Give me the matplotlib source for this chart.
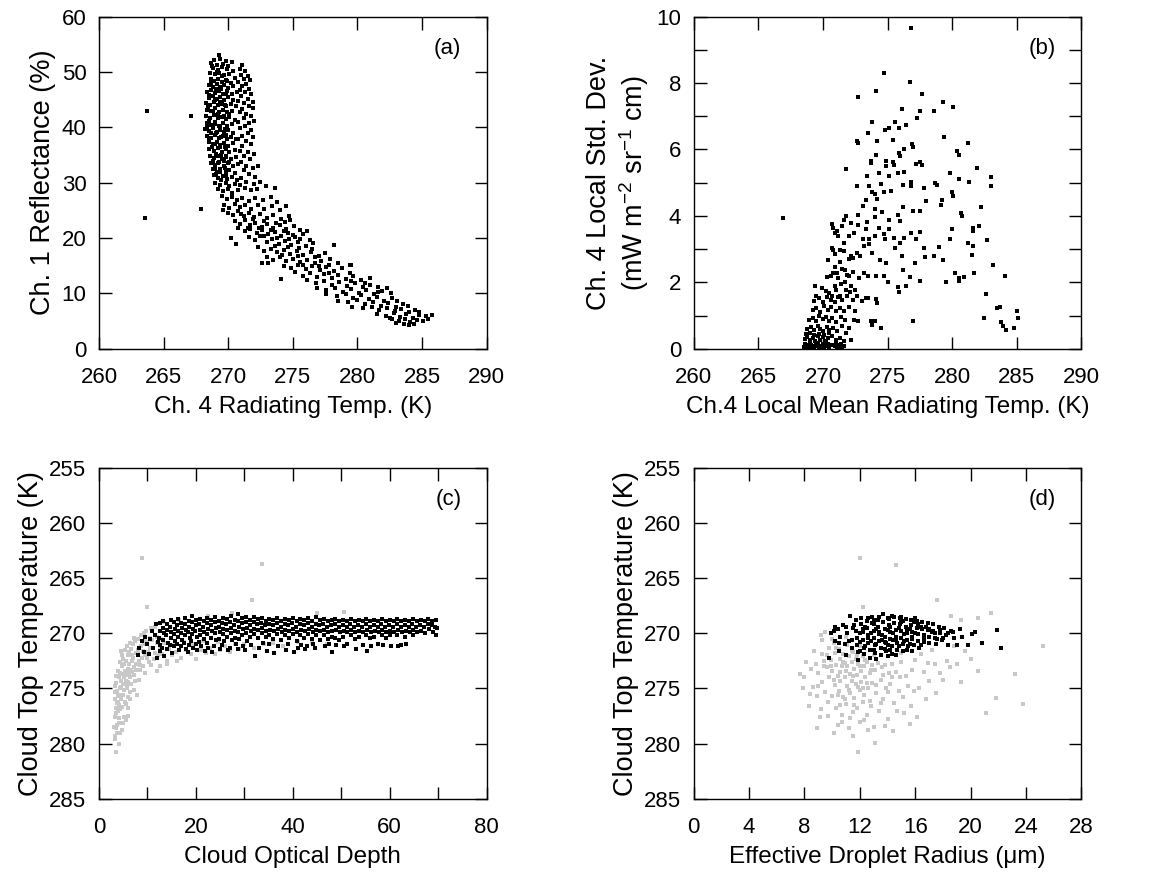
import numpy as np
import matplotlib.pyplot as plt
from matplotlib.ticker import MultipleLocator

plt.rcParams['font.family'] = ['Liberation Sans', 'DejaVu Sans']
plt.rcParams['mathtext.fontset'] = 'custom'
plt.rcParams['mathtext.rm'] = 'Liberation Sans'
plt.rcParams['mathtext.default'] = 'regular'

# (a) Ch.4 radiating temperature (K), Ch.1 reflectance (%)
a_core = [
    (269.3,53.1),(268.9,52.2),(269.4,52.4),(269.8,52.0),(270.3,51.8),(268.7,51.6),(269.1,51.3),(269.6,51.5),(270.0,51.1),
    (268.8,50.7),(269.2,50.4),(269.5,50.9),(269.9,50.5),(270.4,50.2),(268.6,49.9),(269.0,49.6),(269.3,49.9),(269.7,49.4),(270.1,49.7),
    (268.7,48.8),(268.9,48.3),(269.2,48.7),(269.5,48.1),(269.8,48.6),(270.2,48.0),(270.5,48.9),(268.5,47.6),(268.8,47.2),(269.1,47.8),
    (269.4,47.3),(269.7,47.6),(270.0,47.1),(270.4,47.5),(268.4,46.4),(268.7,46.8),(269.0,46.2),(269.3,46.6),(269.6,46.1),(269.9,46.5),
    (270.3,46.0),(270.7,46.4),(268.5,45.3),(268.8,45.7),(269.1,45.1),(269.4,45.5),(269.7,45.0),(270.0,45.4),(270.4,44.9),(268.3,44.4),
    (268.6,44.1),(268.9,44.6),(269.2,44.0),(269.5,44.3),(269.8,43.9),(270.2,44.2),(270.6,43.8),(268.4,43.2),(268.7,42.9),(269.0,43.4),
    (269.3,42.8),(269.6,43.1),(269.9,42.7),(270.3,43.0),(268.3,42.0),(268.6,41.7),(268.9,42.2),(269.2,41.6),(269.5,41.9),(269.8,41.5),
    (270.1,41.8),(270.5,41.4),(268.4,40.8),(268.7,40.4),(269.0,40.9),(269.3,40.3),(269.6,40.7),(269.9,40.2),(270.3,40.6),(268.2,39.7),
    (268.5,39.3),(268.8,39.8),(269.1,39.2),(269.4,39.6),(269.7,39.1),(270.0,39.5),(270.4,39.0),(268.4,38.5),(268.7,38.1),(269.0,38.6),
    (269.3,38.0),(269.6,38.4),(269.9,37.9),(270.2,38.3),(270.6,37.8),(268.5,37.3),(268.8,36.9),(269.1,37.4),(269.4,36.8),(269.7,37.2),
    (270.0,36.7),(270.4,37.1),(268.5,36.1),(268.9,35.7),(269.2,36.2),(269.5,35.6),(269.8,36.0),(270.1,35.5),(270.5,35.9),(268.6,34.9),
    (268.9,34.4),(269.2,34.8),(269.5,34.3),(269.8,34.7),(270.2,34.2),(270.6,34.6),(268.7,33.6),(269.0,33.2),(269.3,33.7),(269.7,33.1),
    (270.0,33.5),(270.4,33.0),(270.8,33.4),(268.8,32.4),(269.1,32.0),(269.4,32.5),(269.8,31.9),(270.1,32.3),(270.5,31.8),(268.9,31.3),
    (269.2,30.8),(269.6,31.2),(269.9,30.6),(270.3,31.0),(270.7,30.5),(269.0,30.0),(269.4,29.6),(269.8,29.9),(270.1,29.4),(270.5,29.8),
    (269.2,28.9),(269.6,28.5),(270.0,28.8),(270.3,28.2),(270.8,28.6),
    (268.75,51.0),(269.15,50.0),(269.55,49.2),(269.95,48.3),(268.65,48.0),(269.05,47.0),(269.45,46.9),(269.85,46.0),(268.55,45.9),
    (268.95,45.0),(269.35,44.5),(269.75,44.0),(268.45,43.6),(268.85,43.0),(269.25,42.4),(269.65,42.0),(270.05,42.4),(268.55,41.1),
    (268.95,40.6),(269.35,40.0),(269.75,39.7),(268.35,40.0),(268.65,39.0),(269.05,38.9),(269.45,38.2),(269.85,38.7),(268.55,37.7),
    (268.95,37.0),(269.35,36.5),(269.75,36.4),(268.75,36.5),(269.05,35.2),(269.45,35.0),(269.85,34.9),(268.85,34.0),(269.25,33.5),
    (269.65,33.9),(270.05,33.8),(268.95,32.7),(269.35,32.0),(269.75,32.6),(269.05,31.5),(269.45,30.4),(269.85,31.4),
]
a_arm = [
    (271.1,51.3),(270.9,50.6),(271.3,50.1),(271.0,49.5),(271.5,49.3),(271.2,48.8),(271.7,48.5),(270.8,48.2),(271.4,47.9),(271.1,47.4),
    (271.6,47.0),(270.9,46.7),(271.3,46.3),(271.8,46.0),(271.0,45.6),(271.5,45.2),(271.9,44.6),(271.2,44.4),(270.8,44.8),(271.6,43.8),
    (271.1,43.3),(271.9,43.5),(270.9,42.7),(271.4,42.4),(271.8,42.0),(271.2,41.6),(270.8,41.0),(271.6,40.8),(272.0,41.2),(271.3,40.2),
    (271.8,39.6),(270.9,39.8),(271.5,39.0),(271.1,38.5),(271.9,38.2),(270.8,37.9),(271.4,37.5),(271.8,36.9),(271.1,36.6),(270.9,35.8),
    (271.5,35.5),(272.0,35.2),(271.2,34.8),(271.7,34.2),(271.0,33.7),(271.4,33.1),(271.9,32.7),(272.3,33.0),(271.2,32.2),(271.6,31.5),
    (272.1,31.0),(271.0,30.9),(271.4,30.2),(272.0,29.8),(272.5,30.1),(270.9,29.5),(271.3,29.0),(271.8,28.6),(272.2,28.9),(272.9,29.4),
    (273.6,29.0),
]
a_tail = [
    (269.5,27.6),(269.9,27.0),(270.3,27.4),(270.7,26.8),(271.1,27.2),(271.6,26.6),(272.1,27.3),(272.7,26.9),(273.3,27.5),(273.8,26.5),
    (269.7,26.0),(270.1,25.5),(270.5,26.2),(270.9,25.6),(271.3,26.0),(271.8,25.3),(272.3,25.9),(272.8,25.2),(273.4,25.7),(274.0,25.1),
    (274.5,25.8),(269.6,25.0),(270.0,24.6),(270.4,24.2),(270.8,24.8),(271.2,24.0),(271.6,24.5),(272.0,23.8),(272.5,24.3),(273.0,23.6),
    (273.5,24.1),(274.1,23.4),(274.7,23.9),(274.8,23.3),(270.5,23.0),(270.9,22.5),(271.3,23.2),(271.7,22.3),(272.1,22.8),(272.6,22.0),
    (273.0,22.6),(273.5,21.8),(274.0,22.4),(274.5,21.6),(275.1,22.1),(275.6,21.5),(270.8,21.8),(271.3,21.2),(271.7,21.6),(272.2,20.9),
    (272.6,21.4),(273.1,20.7),(273.6,21.1),(274.1,20.4),(274.6,20.9),(275.2,20.2),(275.8,20.7),(276.1,21.3),(270.2,20.0),(270.6,19.0),
    (271.6,20.1),(272.1,19.6),(272.5,20.3),(273.0,19.3),(273.4,19.8),(273.9,19.0),(274.4,19.5),(274.9,18.8),(275.4,19.3),(276.0,18.6),
    (276.6,19.1),(272.3,18.3),(272.8,17.7),(273.3,18.1),(273.8,17.4),(274.3,17.9),(274.8,17.1),(275.3,17.6),(275.8,16.9),(276.4,17.4),
    (277.0,16.8),(277.5,17.3),(273.0,16.6),(273.5,16.1),(274.0,16.5),(274.5,15.8),(275.0,16.3),(275.6,15.6),(276.1,16.1),(276.7,15.4),
    (277.2,15.9),(277.8,15.2),(272.6,15.4),(273.1,15.4),(274.3,15.0),(274.9,14.6),(275.4,15.1),(276.0,14.4),(276.5,14.9),(277.1,14.2),
    (277.6,14.7),(278.2,14.0),(278.8,14.6),(279.4,15.2),(274.1,12.6),(275.2,13.8),(275.8,13.2),(276.3,13.7),(276.9,13.0),(277.4,13.5),
    (278.0,12.8),(278.5,13.3),(279.1,12.6),(279.7,13.1),(280.3,12.4),(276.1,12.4),(276.8,11.9),(277.4,12.2),(278.0,11.6),(278.6,12.0),
    (279.2,11.3),(279.8,11.8),(280.4,11.1),(281.0,11.6),(281.0,12.8),(276.9,11.0),(277.6,10.6),(278.3,11.0),(278.9,10.3),(279.5,10.8),
    (280.1,10.1),(280.7,10.6),(281.3,9.9),(281.9,10.4),(282.3,11.0),(277.6,9.9),(278.4,9.5),(279.1,9.9),(279.7,9.2),(280.3,9.7),
    (280.9,9.0),(281.5,9.4),(282.1,8.7),(282.7,9.2),(278.5,8.7),(279.3,8.4),(280.0,8.8),(280.6,8.1),(281.2,8.5),(281.8,7.8),
    (282.4,8.3),(283.0,7.6),(283.5,8.1),(279.6,7.6),(280.4,7.3),(281.1,7.6),(281.7,7.0),(282.3,7.4),(282.9,6.8),(283.4,7.2),
    (284.0,6.6),(284.5,7.0),(281.5,6.3),(282.2,6.0),(282.8,6.4),(283.3,5.8),(283.8,6.2),(284.3,5.6),(284.8,6.1),(285.3,5.9),
    (285.8,6.1),(282.7,5.3),(283.2,5.0),(283.7,5.4),(284.1,4.8),(284.6,5.2),(285.1,5.0),(283.6,4.5),(284.0,4.2),(284.4,4.4),
    (283.0,4.6),(282.5,5.6),
    (271.0,24.3),(271.9,23.5),(272.8,23.0),(273.7,22.8),(274.4,22.9),(271.5,21.9),(272.4,21.8),(273.3,21.5),(274.3,21.2),(275.0,20.6),
    (272.8,20.4),(273.8,20.0),(274.7,19.9),(275.6,19.8),(276.3,19.6),(273.6,18.6),(274.6,18.4),(275.5,18.2),(276.5,18.0),(274.2,16.9),
    (275.4,16.7),(276.7,16.5),(277.9,16.3),(275.8,15.2),(277.0,15.0),(278.5,15.4),(277.8,13.7),(279.4,13.7),(280.6,11.9),(279.5,12.3),
    (281.6,11.2),(281.6,10.3),(282.6,10.0),(283.1,8.6),(283.9,7.7),(284.8,6.6),(285.5,5.4),
]
a_outliers = [(263.7,43.0),(263.6,23.6),(267.1,42.0),(267.9,25.3),(278.2,18.8),(279.5,15.1)]

# (b) Ch.4 local mean radiating temperature (K), local std. dev.
b_scatter = [
    (276.8,9.67),(274.7,8.31),(276.7,8.04),(274.1,7.75),(272.7,7.57),(277.7,7.68),(279.3,7.44),(280.1,7.29),(276.1,7.21),(277.5,7.17),
    (278.6,7.17),(273.8,6.83),(275.6,6.83),(277.3,6.94),(276.4,6.75),(274.8,6.6),(275.1,6.66),(275.9,6.65),(273.5,6.49),(272.6,6.25),
    (272.7,6.2),(274.2,6.26),(275.4,6.27),(279.4,6.39),(281.2,6.19),(276.9,6.15),(277.0,6.08),(276.3,6.0),(280.4,5.95),(280.5,5.83),
    (275.9,5.88),(276.0,5.8),(274.1,5.83),(273.7,5.65),(273.7,5.6),(274.9,5.65),(274.9,5.5),(275.4,5.63),(275.5,5.53),(277.5,5.63),
    (277.7,5.53),(277.2,5.57),(271.8,5.4),(279.8,5.3),(281.9,5.45),(276.3,5.33),(280.5,5.1),(281.3,5.02),(283.0,5.18),(283.0,4.9),
    (273.4,5.2),(274.3,5.28),(275.1,5.2),(275.8,5.3),(272.6,4.91),(273.6,4.91),(274.5,4.97),(276.2,4.94),(276.8,5.01),(276.8,4.9),
    (277.8,4.84),(278.7,5.0),(278.8,4.94),(280.0,4.71),(280.1,4.59),(279.2,4.49),(279.1,4.32),(282.2,4.27),(280.7,4.09),(280.8,3.99),
    (278.0,4.46),(277.5,4.15),(276.2,4.27),(277.0,4.15),(273.8,4.71),(274.0,4.67),(274.7,4.71),(273.3,4.47),(274.2,4.51),(275.3,4.75),
    (273.1,4.29),(274.0,4.21),(274.0,3.98),(274.6,4.13),(275.1,3.89),(275.8,4.04),(276.0,3.84),(271.8,3.99),(271.6,3.89),(270.7,3.76),
    (270.8,3.64),(271.5,3.69),(272.2,3.79),(272.7,4.04),(273.4,3.81),(273.3,3.59),(272.7,3.73),(274.3,3.64),(275.1,3.59),(276.8,3.49),
    (277.5,3.5),(280.0,3.59),(281.6,3.64),(281.6,3.54),(282.1,3.71),(282.7,3.27),(281.6,3.09),(281.5,2.83),(281.2,3.19),(279.8,3.29),
    (279.0,3.05),(278.6,2.78),(277.8,3.04),(277.9,2.75),(277.2,3.29),(276.0,3.19),(276.3,3.34),(275.5,3.34),(275.6,3.04),(274.7,3.44),
    (274.8,3.29),(274.0,3.39),(273.6,3.29),(273.6,3.14),(273.1,3.29),(273.2,3.09),(272.4,3.49),(272.0,3.39),(271.6,3.19),(271.2,3.39),
    (270.9,3.49),(271.1,3.54),(270.7,3.04),(270.8,2.98),(271.3,2.96),(272.2,2.78),(272.3,2.73),(272.6,2.88),(272.9,2.78),(273.8,2.88),
    (274.4,2.68),(274.9,2.58),(276.1,2.78),(276.2,2.38),(277.1,2.58),(279.3,2.68),(280.2,2.28),(280.5,2.13),(280.5,2.03),(280.9,2.16),
    (281.7,2.28),(279.5,2.0),(277.5,2.05),(276.7,2.15),(275.8,1.86),(275.9,1.7),(276.4,1.88),(275.0,2.0),(274.7,2.18),(274.1,2.2),
    (273.5,2.18),(273.2,2.28),(272.8,2.13),(283.2,2.51),(284.1,2.2),(282.6,1.66),(283.5,1.23),(283.7,1.26),(285.0,1.13),(285.1,0.92),
    (283.8,0.79),(283.9,0.67),(284.2,0.55),(284.8,0.62),(282.5,0.92),(277.0,0.82),(273.7,0.82),(273.8,0.72),(274.0,0.84),(274.5,0.62),
    (273.3,1.53),(273.5,1.53),(274.1,1.5),(274.2,1.38),(273.0,1.43),(272.5,1.78),(272.6,1.58),(266.9,3.94),
    (269.4,1.88),(269.5,1.6),(270.5,1.68),(270.7,1.58),(270.9,1.88),(270.6,2.18),(270.8,2.28),(271.1,2.28),(271.7,2.38),(272.0,2.18),
    (272.2,1.88),(271.8,1.78),(271.3,1.58),(272.3,1.48),(272.5,1.13),(272.4,0.87),(272.7,0.82),(272.0,0.62),(271.8,0.47),(272.2,0.27),
]
b_cluster = [
    (268.5,0.05),(268.7,0.12),(268.9,0.04),(269.1,0.10),(269.3,0.06),(269.5,0.13),(269.7,0.03),(269.9,0.09),(270.1,0.05),(270.3,0.12),
    (270.5,0.04),(270.9,0.08),(271.1,0.03),(271.3,0.11),(271.5,0.05),(268.6,0.15),(268.8,0.06),(269.0,0.14),(269.2,0.03),(269.4,0.09),
    (269.6,0.16),(269.8,0.05),(270.0,0.13),(270.2,0.07),(270.4,0.15),(270.7,0.10),(271.0,0.14),(271.2,0.06),(271.4,0.15),(271.6,0.09),
    (268.6,0.28),(268.8,0.36),(269.0,0.25),(269.2,0.33),(269.4,0.22),(269.6,0.38),(269.8,0.27),(270.0,0.35),(270.2,0.24),(270.4,0.31),
    (270.7,0.37),(271.0,0.26),(271.3,0.32),(271.6,0.22),(268.7,0.44),(269.0,0.47),(269.3,0.41),(269.7,0.45),(270.1,0.42),(270.5,0.48),
    (268.8,0.58),(269.1,0.66),(269.3,0.55),(269.6,0.69),(269.8,0.60),(270.0,0.52),(270.3,0.65),(270.5,0.57),(270.8,0.62),(271.1,0.54),
    (271.5,0.67),(268.9,0.86),(269.2,0.94),(269.5,0.82),(269.7,0.99),(270.0,0.88),(270.2,0.96),(270.5,0.84),(270.7,0.92),(271.0,0.81),
    (271.4,0.97),(271.7,0.86),(269.2,1.16),(269.5,1.24),(269.8,1.12),(270.1,1.28),(270.4,1.18),(270.6,1.25),(271.0,1.13),(271.3,1.22),
    (271.6,1.15),(272.0,1.27),(269.3,1.45),(269.7,1.53),(270.0,1.41),(270.3,1.57),(270.6,1.48),(270.9,1.42),(271.2,1.55),(271.5,1.46),
    (271.9,1.60),(269.9,1.82),(270.2,1.73),(271.0,1.76),(271.4,1.95),(271.7,2.02),(272.1,1.71),(270.3,2.15),(270.9,2.45),(271.2,2.12),
    (271.5,2.40),(271.9,2.23),(272.3,2.31),(270.4,2.68),(270.9,2.84),(271.3,2.62),(271.6,2.95),(272.0,2.70),
]

# (c) cloud optical depth, cloud top temperature (K)
c_black = [
    (8.0,272.0),(8.3,271.3),(8.8,270.7),(9.2,271.7),(9.6,270.3),(10.0,271.0),(10.3,271.9),(10.6,270.5),(10.9,269.8),(11.2,271.3),
    (11.5,270.2),(11.8,269.2),(12.0,272.2),(12.2,270.8),(12.5,269.1),(12.6,269.8),(12.4,270.4),(12.7,271.1),(12.5,271.6),(13.3,268.9),
    (13.2,269.5),(13.4,270.0),(13.3,270.6),(13.1,271.3),(13.5,272.1),(14.0,269.2),(14.1,269.7),(13.9,270.2),(14.2,270.9),(14.0,271.4),
    (14.8,268.8),(14.7,269.4),(14.9,269.9),(14.8,270.4),(14.6,271.1),(15.0,271.8),(15.5,269.0),(15.6,269.6),(15.4,270.1),(15.7,270.7),
    (15.5,271.2),(16.3,268.7),(16.2,269.3),(16.4,269.8),(16.3,270.3),(16.1,271.0),(16.5,271.5),(17.0,269.1),(17.1,269.5),(16.9,270.0),
    (17.2,270.6),(17.0,271.2),(17.8,268.6),(17.7,269.2),(17.9,269.7),(17.8,270.2),(17.6,270.9),(18.0,271.4),(18.5,268.9),(18.6,269.4),
    (18.4,269.9),(18.7,270.4),(18.5,271.1),(18.3,271.7),(19.3,268.4),(19.2,269.0),(19.4,269.6),(19.3,270.1),(19.1,270.7),(19.5,271.3),
    (20.0,268.8),(20.1,269.3),(19.9,269.8),(20.2,270.3),(20.0,271.0),(20.3,271.5),(20.8,268.7),(20.7,269.2),(20.9,269.7),(20.8,270.2),
    (20.6,270.8),(21.0,271.2),(21.6,268.9),(21.5,269.4),(21.7,269.9),(21.6,270.5),(21.8,271.6),(22.4,268.6),(22.3,269.1),(22.5,269.6),
    (22.4,270.1),(22.2,270.9),(22.6,271.3),(23.2,268.8),(23.1,269.3),(23.3,269.8),(23.2,270.4),(23.4,271.7),(24.0,268.5),(23.9,269.0),
    (24.1,269.5),(24.0,270.0),(24.2,270.6),(23.8,271.2),(24.8,268.9),(24.7,269.4),(24.9,269.9),(24.8,270.5),(25.0,271.4),(25.6,268.6),
    (25.5,269.1),(25.7,269.6),(25.6,270.1),(25.8,270.7),(25.4,271.1),(26.4,268.7),(26.3,269.2),(26.5,269.7),(26.4,270.3),(26.6,271.5),
    (27.2,268.4),(27.1,269.0),(27.3,269.5),(27.2,270.0),(27.4,270.6),(27.0,271.3),(28.0,268.8),(27.9,269.3),(28.1,269.8),(28.0,270.4),
    (28.2,271.0),(28.8,268.3),(28.7,268.9),(28.9,269.4),(28.8,269.9),(29.0,270.5),(28.6,271.4),(29.6,268.6),(29.5,269.1),(29.7,269.6),
    (29.6,270.2),(29.8,271.2),(30.4,268.5),(30.3,269.0),(30.5,269.5),(30.4,270.0),(30.6,270.7),(30.2,271.5),(31.2,268.8),(31.1,269.3),
    (31.3,269.8),(31.2,270.3),(31.4,271.1),(32.0,268.5),(31.9,269.0),(32.1,269.6),(32.0,270.1),(32.2,272.1),(32.8,268.7),(32.7,269.2),
    (32.9,269.7),(32.8,270.4),(33.0,271.3),(33.6,268.6),(33.5,269.1),(33.7,269.5),(33.6,270.0),(33.8,270.9),(34.4,268.9),(34.3,269.3),
    (34.5,269.8),(34.4,270.3),(34.6,271.6),(35.2,268.7),(35.1,269.2),(35.3,269.7),(35.2,270.2),(35.0,271.0),(36.0,268.8),(35.9,269.3),
    (36.1,269.8),(36.0,270.5),(36.2,271.8),(36.8,268.6),(36.7,269.1),(36.9,269.6),(36.8,270.1),(37.0,271.2),(37.6,268.9),(37.5,269.4),
    (37.7,269.9),(37.6,270.6),(38.4,268.7),(38.3,269.2),(38.5,269.7),(38.4,270.2),(38.6,271.5),(39.2,268.8),(39.1,269.3),(39.3,269.8),
    (39.2,270.4),(39.0,271.0),(40.0,268.6),(39.9,269.1),(40.1,269.6),(40.0,270.1),(40.2,271.7),(40.8,268.9),(40.7,269.4),(40.9,269.9),
    (40.8,270.7),(41.0,271.3),(41.6,268.7),(41.5,269.2),(41.7,269.7),(41.6,270.2),(41.8,271.1),(42.4,268.8),(42.3,269.3),(42.5,269.8),
    (42.4,270.4),(42.6,271.4),(43.2,268.6),(43.1,269.1),(43.3,269.6),(43.2,270.1),(43.0,271.2),(44.0,268.9),(43.9,269.4),(44.1,269.9),
    (44.0,270.5),(44.2,271.0),(44.8,268.5),(44.7,269.2),(44.9,269.7),(44.8,270.2),(44.6,271.3),(45.6,268.8),(45.5,269.3),(45.7,269.8),
    (45.6,270.6),(46.4,268.7),(46.3,269.2),(46.5,269.7),(46.4,270.2),(46.6,271.2),(47.2,268.9),(47.1,269.4),(47.3,269.9),(47.2,270.5),
    (47.4,271.0),(48.0,268.8),(47.9,269.3),(48.1,269.8),(48.0,270.3),(48.2,271.7),(48.8,268.7),(48.7,269.2),(48.9,269.7),(48.8,270.4),
    (49.0,271.1),(49.6,268.9),(49.5,269.4),(49.7,269.9),(49.6,270.6),(50.4,268.8),(50.3,269.3),(50.5,269.8),(50.4,270.3),(50.6,271.2),
    (51.2,268.9),(51.1,269.4),(51.3,269.9),(51.2,271.0),(52.0,268.7),(51.9,269.2),(52.1,269.7),(52.0,270.2),(52.8,268.9),(52.7,269.4),
    (52.9,269.9),(52.8,270.5),(53.0,271.4),(53.6,268.8),(53.5,269.3),(53.7,269.8),(53.6,270.3),(54.4,268.9),(54.3,269.4),(54.5,269.9),
    (54.4,271.1),(55.2,268.7),(55.1,269.2),(55.3,269.7),(55.2,270.2),(55.4,271.6),(56.0,268.9),(55.9,269.4),(56.1,269.9),(56.0,270.4),
    (56.2,271.2),(56.8,268.8),(56.7,269.3),(56.9,269.8),(56.8,270.3),(57.6,268.9),(57.5,269.4),(57.7,269.9),(57.6,271.0),(58.4,268.7),
    (58.3,269.2),(58.5,269.7),(58.4,270.2),(58.6,271.1),(59.2,268.9),(59.1,269.4),(59.3,269.9),(59.2,270.4),(60.0,268.8),(59.9,269.3),
    (60.1,269.8),(60.0,270.2),(60.2,271.2),(60.8,268.9),(60.7,269.4),(60.9,269.9),(61.6,268.7),(61.5,269.2),(61.7,269.7),(61.6,270.2),
    (61.8,271.2),(62.4,268.9),(62.3,269.4),(62.5,269.9),(62.4,271.1),(63.2,268.8),(63.1,269.3),(63.3,269.8),(63.2,270.3),(63.4,271.0),
    (64.0,268.9),(63.9,269.4),(64.1,269.9),(64.8,268.7),(64.7,269.2),(64.9,269.7),(64.8,270.2),(65.6,268.9),(65.5,269.4),(65.7,269.9),
    (66.4,268.8),(66.3,269.3),(66.5,269.8),(67.2,268.9),(67.1,269.4),(67.3,270.0),(68.0,268.7),(67.9,269.2),(68.1,269.6),(68.8,268.9),
    (68.7,269.3),(68.9,269.9),(69.5,268.8),(69.4,269.4),(69.6,270.2),(69.8,269.5),
]
c_gray = [
    (3.2,278.5),(3.5,280.8),(3.4,277.6),(3.6,276.8),(3.3,276.0),(3.7,275.2),(3.5,274.5),(3.8,278.3),(3.9,277.0),(4.1,274.0),
    (4.0,275.6),(4.2,276.5),(4.3,273.6),(4.4,275.0),(4.2,277.7),(4.5,274.3),(4.6,276.0),(4.2,280.0),(4.8,273.0),(4.9,274.6),
    (5.0,275.6),(5.1,272.8),(5.2,274.0),(5.3,276.2),(5.1,277.6),(5.4,273.4),(5.6,272.5),(5.7,273.8),(5.8,275.0),(5.9,272.0),
    (6.0,273.2),(6.1,274.4),(6.2,271.7),(6.3,272.8),(6.4,274.0),(6.5,275.3),(6.7,271.4),(6.8,272.5),(6.9,273.5),(7.0,271.0),
    (7.1,272.2),(7.2,273.1),(7.4,274.3),(7.5,270.7),(7.6,271.8),(7.7,272.8),(8.0,270.5),(8.1,271.5),(8.2,272.5),(8.4,273.3),
    (8.6,270.2),(8.7,271.2),(8.8,272.2),(9.0,273.0),(9.2,270.0),(9.4,271.0),(9.5,272.0),(9.7,269.8),(9.9,270.8),(10.1,271.7),
    (10.3,272.6),(10.5,270.4),(10.8,269.5),(11.0,271.3),(11.3,272.3),(11.6,269.4),(11.9,270.9),(12.2,272.0),(12.5,273.0),
    (3.3,275.3),(3.6,273.9),(3.9,273.4),(4.4,272.6),(4.7,272.0),(5.3,271.5),(5.5,277.9),(6.1,276.8),(3.8,279.0),(4.7,278.8),
    (5.9,277.5),(3.4,279.3),(4.0,276.2),(4.6,274.9),(5.6,274.3),(6.6,273.3),(7.3,275.1),(8.3,274.2),(9.6,273.6),(10.8,272.9),
    (12.0,273.4),(14.0,272.8),(16.2,272.5),(6.4,276.0),(7.9,275.6),(5.0,278.1),
    (3.4,274.8),(3.7,276.3),(3.5,277.2),(3.9,275.7),(4.1,278.1),(4.3,276.9),(4.5,275.6),(4.8,276.7),(4.9,273.7),(5.2,275.1),
    (5.5,276.4),(5.7,274.7),(6.0,275.8),(6.3,273.6),(6.6,274.6),(6.9,272.0),(7.2,273.8),(7.6,273.3),(8.0,271.9),(8.5,272.9),
    (9.0,271.6),(9.5,270.6),(10.0,272.2),(10.5,271.3),(11.0,270.6),(11.5,271.8),(12.0,270.3),(12.5,271.4),(13.5,270.9),(14.5,271.4),
    (15.5,271.1),(17.5,270.8),(19.5,271.0),(21.5,270.7),(24.5,270.8),(3.6,278.6),(4.4,279.0),(3.3,279.6),(5.0,272.3),(5.8,271.2),
    (6.5,270.9),(7.3,270.4),(4.6,271.6),
    (13.0,271.9),(14.0,272.5),(15.0,272.0),(16.0,271.7),(17.0,272.2),(18.0,271.5),(19.0,271.9),(20.0,272.3),(21.0,271.5),(22.0,271.8),
    (23.0,271.3),(24.0,271.9),(25.0,271.5),(26.0,271.2),(27.0,271.7),(28.0,271.0),(29.0,271.4),(30.0,271.0),(32.0,271.3),(34.0,271.0),
    (36.0,270.9),(38.0,271.2),(41.0,270.8),(44.0,270.9),(47.0,271.0),(13.5,269.0),(16.5,268.8),(22.5,268.4),(27.5,268.2),(45.0,268.2),
    (50.5,268.1),(12.8,270.5),(8.8,263.2),(33.7,263.7),(31.5,267.0),(10.0,267.6),
]

# (d) effective droplet radius (um), cloud top temperature (K)
d_black = [
    (9.8,272.2),(9.9,270.0),(10.1,269.8),(10.2,270.7),(10.4,269.6),(10.5,271.6),(10.6,270.3),(10.8,269.3),(10.9,271.0),(11.0,272.0),
    (11.1,270.0),(11.2,270.7),(11.3,268.4),(11.4,271.3),(11.5,269.5),(11.7,268.8),(11.7,269.8),(11.8,270.4),(11.8,271.1),(11.9,272.4),
    (11.9,271.7),(12.1,268.6),(12.1,269.2),(12.2,269.9),(12.2,270.6),(12.3,271.3),(12.3,271.9),(12.5,268.9),(12.5,269.5),(12.6,270.2),
    (12.6,270.9),(12.7,271.5),(12.7,272.2),(12.9,268.5),(12.9,269.1),(13.0,269.8),(13.0,270.4),(13.1,271.1),(13.1,271.8),(13.3,268.8),
    (13.3,269.4),(13.4,270.1),(13.4,270.7),(13.5,271.3),(13.5,272.0),(13.7,268.3),(13.7,269.0),(13.8,269.6),(13.8,270.3),(13.9,270.9),
    (13.9,271.6),(14.1,268.7),(14.1,269.3),(14.2,269.9),(14.2,270.5),(14.3,271.2),(14.3,271.9),(14.5,268.5),(14.5,269.1),(14.6,269.7),
    (14.6,270.3),(14.7,270.9),(14.7,271.5),(14.9,268.6),(14.9,269.2),(15.0,269.8),(15.0,270.4),(15.1,271.0),(15.1,271.6),(15.3,268.7),
    (15.3,269.4),(15.4,270.0),(15.4,270.6),(15.5,271.2),(15.7,268.8),(15.7,269.3),(15.8,269.9),(15.8,270.5),(15.9,271.1),(16.1,268.9),
    (16.1,269.5),(16.2,270.1),(16.2,270.7),(16.3,271.3),(16.5,269.0),(16.5,269.6),(16.6,270.2),(16.6,270.8),(16.9,269.1),(16.9,269.7),
    (17.0,270.3),(17.0,270.9),(17.3,269.2),(17.3,269.8),(17.4,270.4),(17.5,271.0),(17.7,269.4),(17.8,270.0),(17.9,270.6),(18.1,269.5),
    (18.2,270.2),(18.4,271.1),(18.6,269.8),(18.8,270.4),(19.0,271.1),(19.2,269.6),(19.4,270.3),(19.8,271.1),(20.3,269.9),(20.8,270.9),
    (21.9,269.7),(22.2,271.3),(20.1,270.1),
    (11.6,269.3),(12.0,270.0),(12.4,269.4),(12.8,270.0),(13.2,269.6),(13.6,270.2),(14.0,269.7),(14.4,270.0),(14.8,269.5),(15.2,270.1),
    (15.6,269.6),(16.0,270.0),(16.4,269.4),(12.0,270.8),(12.4,271.2),(12.8,270.7),(13.2,271.0),(13.6,270.6),(14.0,271.1),(14.4,270.6),
    (14.8,271.2),(15.2,270.7),(15.6,271.0),(12.6,268.6),(13.4,268.5),(14.3,268.4),(15.1,268.9),(15.9,269.0),(16.8,269.4),(17.2,269.9),
    (17.6,270.5),(13.2,272.3),(14.0,272.1),(13.8,271.4),(14.6,272.0),(15.8,271.6),(16.4,271.1),
    (12.2,269.6),(12.6,270.4),(13.0,269.2),(13.4,269.9),(13.8,270.8),(14.2,269.4),(14.6,270.6),(15.0,269.0),(15.4,269.7),(15.8,270.3),
    (16.2,269.2),(16.6,270.5),(17.0,269.6),(17.4,270.0),(17.8,269.7),(18.0,270.4),(18.4,270.0),(18.7,269.9),(13.0,268.8),(14.0,268.6),
    (15.0,268.5),(16.0,268.6),(11.4,270.6),(11.0,269.4),(12.0,271.6),(13.0,271.5),(14.2,271.5),(15.4,271.5),(10.5,270.9),(10.2,269.4),
]
d_gray = [
    (7.7,273.7),(8.0,274.0),(8.3,276.6),(8.5,273.2),(8.6,274.9),(8.8,272.8),(8.9,275.7),(9.0,273.6),(9.1,277.6),(9.2,270.2),
    (9.3,271.9),(9.3,274.4),(9.4,272.5),(9.5,275.3),(9.6,273.1),(9.7,276.2),(9.8,271.3),(9.8,274.0),(9.9,272.4),(10.0,275.7),
    (10.0,273.4),(10.1,270.9),(10.2,271.8),(10.2,274.7),(10.3,272.9),(10.3,276.8),(10.4,278.3),(10.4,273.9),(10.5,271.4),(10.5,275.2),
    (10.6,272.3),(10.6,274.3),(10.7,273.0),(10.7,277.4),(10.8,271.9),(10.8,275.8),(10.9,272.7),(10.9,274.0),(11.0,273.4),(11.0,276.4),
    (11.1,271.1),(11.1,274.8),(11.2,272.1),(11.2,278.6),(11.3,273.7),(11.3,275.4),(11.4,272.6),(11.4,274.3),(11.5,271.7),(11.5,277.1),
    (11.6,273.2),(11.6,275.9),(11.7,272.3),(11.7,274.6),(11.8,273.8),(11.8,276.8),(11.9,272.8),(11.9,280.8),(12.0,275.1),(12.0,278.0),
    (12.1,273.4),(12.1,274.4),(12.2,272.1),(12.2,276.2),(12.3,273.0),(12.3,275.6),(12.4,274.0),(12.5,277.4),(12.5,272.6),(12.6,275.0),
    (12.7,273.6),(12.8,276.6),(12.9,272.9),(12.9,274.5),(13.0,278.5),(13.1,279.9),(13.1,273.3),(13.2,275.4),(13.3,272.7),(13.4,277.0),
    (13.5,274.2),(13.6,273.1),(13.7,276.0),(13.8,272.9),(13.9,275.0),(14.0,277.8),(14.1,273.6),(14.2,274.6),(14.3,272.8),(14.5,276.3),
    (14.6,273.5),(14.8,275.2),(14.9,274.0),(15.0,272.6),(15.2,277.2),(15.3,273.9),(15.5,274.8),(15.6,278.2),(15.8,273.3),(16.0,272.4),
    (16.3,275.0),(16.6,273.5),(17.0,274.3),(17.4,272.8),(17.8,273.6),(18.3,272.5),(19.0,272.8),(19.6,271.6),(18.8,271.2),(16.4,271.9),
    (17.2,271.5),(15.0,271.8),(13.0,271.5),(12.0,271.2),(10.0,270.5),(9.5,269.9),(9.3,270.6),(11.0,270.3),
    (9.6,272.0),(9.9,273.0),(10.1,274.2),(10.3,271.3),(10.4,275.6),(10.6,273.5),(10.8,272.6),(10.9,276.0),(11.1,273.0),(11.2,275.1),
    (11.4,271.6),(11.5,273.9),(11.6,276.5),(11.8,272.0),(11.9,274.9),(12.0,273.0),(12.2,275.0),(12.4,272.4),(12.5,274.5),(12.7,276.1),
    (12.8,273.3),(13.0,272.0),(13.2,274.7),(13.5,276.3),(13.7,273.8),(14.0,275.3),(14.3,274.0),(14.7,277.0),(15.1,275.8),(15.7,276.6),
    (16.1,277.6),(16.8,276.0),(17.5,275.4),(18.0,274.2),(9.2,276.9),(8.9,278.6),(10.1,279.0),(11.5,279.3),(10.7,278.0),(12.3,277.9),
    (8.4,275.5),(8.1,272.6),(7.9,275.0),(8.7,271.6),(9.0,274.8),(9.4,273.0),(9.7,277.5),(10.6,276.5),(11.3,277.7),(12.6,278.8),
    (13.8,278.4),(14.4,278.9),(15.9,275.2),(16.9,272.7),(18.5,273.1),(19.3,274.4),(20.0,272.3),(20.5,273.4),
    (12.0,263.2),(14.6,263.8),(17.6,267.0),(12.2,267.6),(21.5,268.2),(19.3,268.8),(25.2,271.2),(23.2,273.7),(23.8,276.4),(21.8,275.9),
    (21.1,277.2),(20.5,268.6),(18.6,268.4),
]

BLACK = '#000000'
GRAY = '#c8c8c8'
MS = 3.0


def dots(ax, pts, color):
    arr = np.array(pts)
    ax.plot(arr[:, 0], arr[:, 1], linestyle='none', marker='s', markersize=MS,
            markeredgewidth=0, color=color)


def style(ax, tag, xlabel, ylabel):
    for s in ax.spines.values():
        s.set_linewidth(1.0)
    ax.tick_params(which='both', direction='in', top=True, right=True,
                   length=9, width=1.0, labelsize=16)
    ax.tick_params(axis='x', pad=13)
    ax.tick_params(axis='y', pad=9)
    ax.set_xlabel(xlabel, fontsize=17.5, labelpad=6)
    ax.set_ylabel(ylabel, fontsize=19.5, labelpad=4)
    ax.text(0.935, 0.905, tag, transform=ax.transAxes, ha='right', va='center', fontsize=16)


fig = plt.figure(figsize=(11.64, 8.74), dpi=100)
ax_a = fig.add_axes([0.085, 0.601, 0.333, 0.380])
ax_b = fig.add_axes([0.596, 0.601, 0.333, 0.380])
ax_c = fig.add_axes([0.085, 0.086, 0.333, 0.379])
ax_d = fig.add_axes([0.596, 0.086, 0.333, 0.379])

for pts in (a_core, a_arm, a_tail, a_outliers):
    dots(ax_a, pts, BLACK)
ax_a.set_xlim(260, 290)
ax_a.set_ylim(0, 60)
ax_a.xaxis.set_major_locator(MultipleLocator(5))
ax_a.yaxis.set_major_locator(MultipleLocator(10))
style(ax_a, '(a)', 'Ch. 4 Radiating Temp. (K)', 'Ch. 1 Reflectance (%)')

dots(ax_b, b_scatter, BLACK)
dots(ax_b, b_cluster, BLACK)
ax_b.set_xlim(260, 290)
ax_b.set_ylim(0, 10)
ax_b.xaxis.set_major_locator(MultipleLocator(5))
ax_b.yaxis.set_major_locator(MultipleLocator(2))
ax_b.yaxis.set_minor_locator(MultipleLocator(1))
style(ax_b, '(b)', 'Ch.4 Local Mean Radiating Temp. (K)',
      'Ch. 4 Local Std. Dev.\n(mW m$^{-2}$ sr$^{-1}$ cm)')

dots(ax_c, c_gray, GRAY)
dots(ax_c, c_black, BLACK)
ax_c.set_xlim(0, 80)
ax_c.set_ylim(285, 255)
ax_c.xaxis.set_major_locator(MultipleLocator(20))
ax_c.xaxis.set_minor_locator(MultipleLocator(10))
ax_c.yaxis.set_major_locator(MultipleLocator(5))
style(ax_c, '(c)', 'Cloud Optical Depth', 'Cloud Top Temperature (K)')

dots(ax_d, d_gray, GRAY)
dots(ax_d, d_black, BLACK)
ax_d.set_xlim(0, 28)
ax_d.set_ylim(285, 255)
ax_d.xaxis.set_major_locator(MultipleLocator(4))
ax_d.yaxis.set_major_locator(MultipleLocator(5))
style(ax_d, '(d)', 'Effective Droplet Radius (μm)', 'Cloud Top Temperature (K)')

fig.savefig('out.png', dpi=100)
